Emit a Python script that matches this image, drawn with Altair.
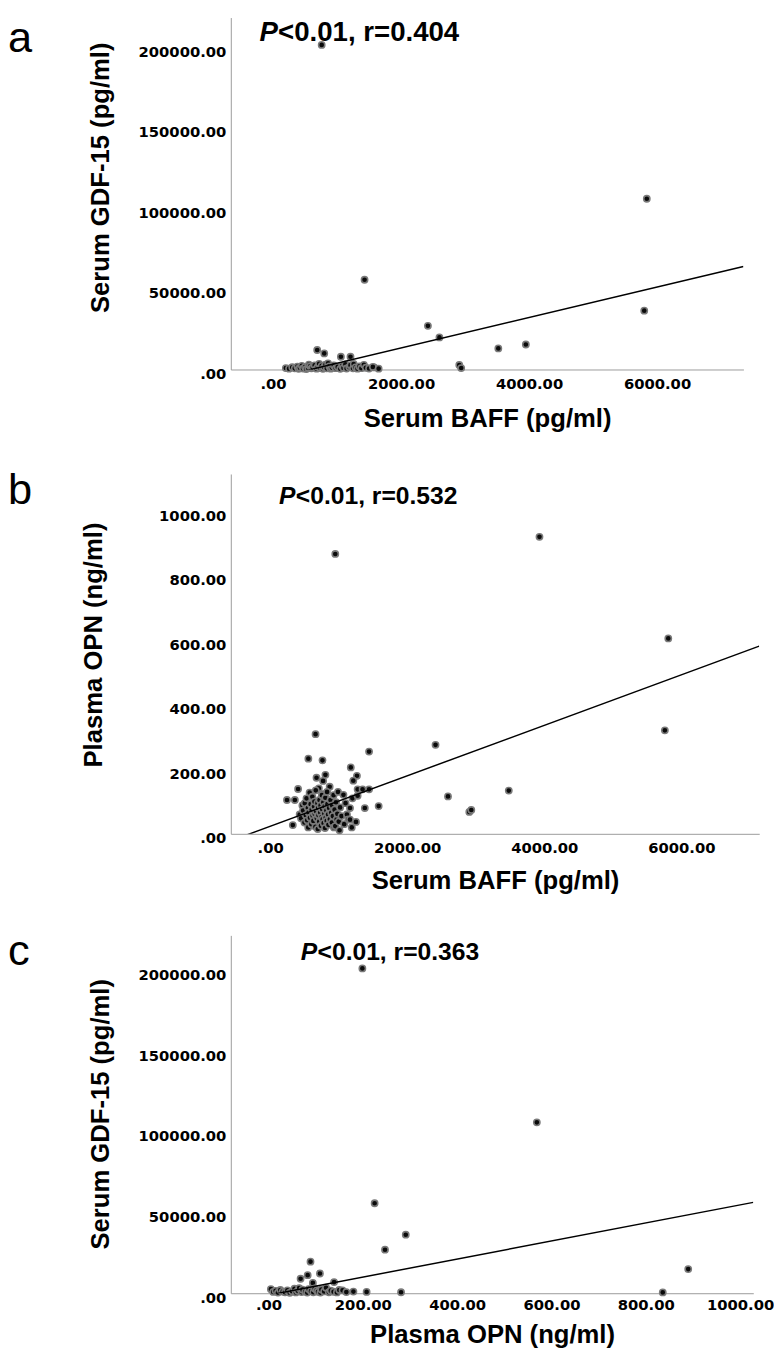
import altair as alt
import pandas as pd

# ---------------- Panel a: Serum BAFF (pg/ml) vs Serum GDF-15 (pg/ml)
a_baff = [760, 5840, 5800, 1430, 2420, 2600, 3520, 3950, 2910, 2940, 690, 800, 1060, 1210, 1580,
          200, 250, 300, 340, 380, 400, 420, 450, 470, 500, 520, 550, 560, 580, 600, 620, 650, 680,
          700, 720, 740, 760, 780, 800, 820, 840, 860, 880, 900, 920, 950, 980, 1010, 1050, 1080,
          1100, 1130, 1150, 1190, 1210, 1250, 1260, 1290, 1320, 1350, 1380, 1420, 1450, 1500, 1560, 1650]
a_gdf = [201500, 106000, 36500, 55700, 27100, 19900, 13100, 15500, 2800, 900, 12100, 10000, 7900, 7900, 1300,
         900, 500, 1400, 700, 1800, 400, 1100, 2300, 600, 1500, 300, 1000, 3000, 2000, 700, 1300, 2600, 500,
         1700, 3500, 900, 2300, 400, 1400, 3000, 700, 3800, 1900, 500, 1200, 2500, 800, 1600, 400, 2200,
         1000, 3200, 600, 1500, 2700, 700, 3400, 1300, 500, 1900, 800, 2900, 1100, 600, 1600, 500]

# ---------------- Panel b: Serum BAFF (pg/ml) vs Plasma OPN (ng/ml)
b_baff = [950, 3930, 5810, 5760, 2413, 2595, 2906, 2935, 3482, 1443, 1176, 1266, 1213, 557, 763, 662, 676,
          806, 772, 868, 710, 762, 245, 407, 1583,
          330, 360, 430, 450, 470, 480, 500, 505, 520, 530, 540, 550, 555, 560, 575, 580, 590, 600, 605,
          615, 620, 630, 640, 645, 650, 660, 665, 670, 680, 690, 695, 700, 705, 715, 720, 730, 735, 740,
          750, 755, 760, 765, 775, 780, 790, 795, 800, 805, 810, 820, 825, 830, 835, 845, 850, 860, 870,
          880, 890, 900, 905, 915, 925, 930, 940, 950, 960, 970, 980, 990, 1000, 1012, 1020, 1040, 1069,
          1080, 1100, 1120, 1140, 1165, 1165, 1190, 1200, 1252, 1276, 1276, 1348, 1381, 1443]
b_opn = [868, 921, 606, 321, 276, 116, 68, 74, 134, 255, 206, 180, 165, 233, 228, 309, 174,
         183, 164, 146, 141, 123, 105, 139, 86,
         27, 105, 60, 48, 88, 72, 35, 95, 58, 110, 42, 80, 20, 66, 128, 50, 92, 30, 75,
         115, 56, 40, 85, 100, 62, 22, 135, 70, 48, 95, 15, 80, 58, 38, 105, 66, 88, 25,
         52, 120, 76, 45, 98, 33, 62, 85, 18, 112, 50, 72, 40, 130, 92, 60, 28, 80, 45,
         105, 65, 35, 88, 55, 120, 20, 75, 24, 98, 45, 62, 130, 38, 11, 82, 55, 121,
         30, 95, 60, 45, 80, 44, 20, 110, 37, 118, 138, 138, 80, 138]

# ---------------- Panel c: Plasma OPN (ng/ml) vs Serum GDF-15 (pg/ml)
c_opn = [199, 569, 225, 291, 247, 89, 68, 83, 109, 94, 139, 890, 836, 281, 208, 180,
         5, 10, 15, 20, 25, 30, 35, 40, 45, 50, 55, 58, 62, 65, 70, 72, 78, 82, 85, 90, 95, 98,
         102, 105, 110, 112, 118, 122, 128, 132, 138, 145, 150, 157, 165]
c_gdf = [201500, 106000, 55800, 36300, 27000, 19600, 9000, 11200, 12250, 6400, 6900, 15000, 500, 600, 800, 1000,
         2500, 800, 1500, 400, 2000, 1000, 600, 1800, 300, 1200, 2800, 500, 1500, 3200, 700, 2200, 1000, 400,
         2600, 1300, 600, 3000, 1800, 900, 400, 2300, 1100, 3400, 600, 1600, 900, 500, 2000, 1800, 700]

# fitted lines: (intercept, slope)
a_fit = (-5560, 9.46)
b_fit = (23.3, 0.0783)
c_fit = (-1200, 56.0)

GDF_TICKS = [0, 50000, 100000, 150000, 200000]
BAFF_TICKS = [0, 2000, 4000, 6000]
OPN_TICKS = [0, 200, 400, 600, 800, 1000]

LABEL_EXPR = "datum.value == 0 ? '.00' : format(datum.value, '.2f')"


def panel(xs, ys, fit, xdom, ydom, xticks, yticks, xtitle, ytitle, letter, rtext,
          width, height, let_y, ann_x, ann_y, ann_size, ytitle_x, ytitle_y,
          lab_pad, tit_pad):
    df = pd.DataFrame({"x": xs, "y": ys})
    line_df = pd.DataFrame({"x": [xdom[0], xdom[1]]})
    line_df["y"] = fit[0] + fit[1] * line_df["x"]

    xenc = alt.X("x:Q", scale=alt.Scale(domain=xdom, nice=False, zero=False),
                 axis=alt.Axis(values=xticks, title=xtitle, labelExpr=LABEL_EXPR,
                               labelPadding=lab_pad, titlePadding=tit_pad))
    yenc = alt.Y("y:Q", scale=alt.Scale(domain=ydom, nice=False, zero=False),
                 axis=alt.Axis(values=yticks, title=ytitle, labelExpr=LABEL_EXPR,
                               titleX=ytitle_x, titleY=ytitle_y))

    pts = alt.Chart(df).mark_circle(size=40, color="#0a0a0a", opacity=1,
                                    stroke="#7a7a7a", strokeWidth=1.6).encode(x=xenc, y=yenc)
    line = alt.Chart(line_df).mark_line(color="black", strokeWidth=1.5, clip=True).encode(
        x=alt.X("x:Q"), y=alt.Y("y:Q"))

    tdf = pd.DataFrame({"t": [letter], "p": ["P"], "r": [rtext]})
    let = alt.Chart(tdf).mark_text(font="Liberation Sans", fontSize=44, align="left",
                                   baseline="alphabetic", color="black").encode(
        text="t:N", x=alt.value(-226), y=alt.value(let_y))
    pp = alt.Chart(tdf).mark_text(font="Liberation Sans", fontSize=ann_size, fontStyle="italic",
                                  fontWeight="bold", align="left", baseline="alphabetic",
                                  color="black").encode(
        text="p:N", x=alt.value(ann_x), y=alt.value(ann_y))
    rr = alt.Chart(tdf).mark_text(font="Liberation Sans", fontSize=ann_size, fontWeight="bold",
                                  align="left", baseline="alphabetic", color="black").encode(
        text="r:N", x=alt.value(ann_x + round(0.68 * ann_size)), y=alt.value(ann_y))
    return alt.layer(pts, line, let, pp, rr).properties(width=width, height=height)


pa = panel(a_baff, a_gdf, a_fit, [-660, 7350], [0, 218500], BAFF_TICKS, GDF_TICKS,
           "Serum BAFF (pg/ml)", "Serum GDF-15 (pg/ml)", "a", "<0.01, r=0.404",
           520, 357, 35, 29, 24, 28, -119, 162, 7, 15)
pb = panel(b_baff, b_opn, b_fit, [-575, 7137], [0, 1116], BAFF_TICKS, OPN_TICKS,
           "Serum BAFF (pg/ml)", "Plasma OPN (ng/ml)", "b", "<0.01, r=0.532",
           536, 365, 30, 49, 30, 25, -126, 173, 7, 12)
pc = panel(c_opn, c_gdf, c_fit, [-80, 1028], [0, 222000], OPN_TICKS, GDF_TICKS,
           "Plasma OPN (ng/ml)", "Serum GDF-15 (pg/ml)", "c", "<0.01, r=0.363",
           530, 363, 30, 71, 25, 25, -119, 181, 5, 9)

chart = alt.vconcat(pa, pb, pc, spacing=38).properties(
    padding={"left": 0, "top": 0, "right": 0, "bottom": 0}
).configure_view(strokeWidth=0).configure_axis(
    domainColor="#9a9a9a", domainWidth=1, ticks=False, tickSize=0, grid=False,
    labelFont="DejaVu Sans", labelFontWeight="bold", labelFontSize=15, labelColor="black",
    titleFont="Liberation Sans", titleFontWeight="bold", titleFontSize=26, titleColor="black"
).configure_axisY(labelPadding=5, labelOffset=4)

chart.save("out.html", embed_options={"renderer": "svg", "actions": False})
